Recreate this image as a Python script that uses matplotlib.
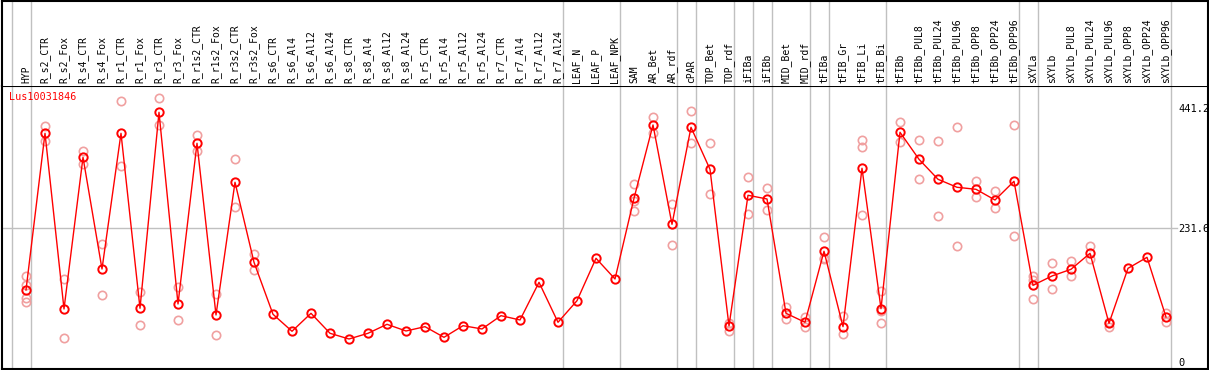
import matplotlib
matplotlib.use("Agg")
import matplotlib.pyplot as plt
import matplotlib.transforms as mtransforms

#---------------Data---------------

gene = "Lus10031846"

samples = ["HYP", "R_s2_CTR", "R_s2_Fox", "R_s4_CTR", "R_s4_Fox", "R_r1_CTR", "R_r1_Fox",
           "R_r3_CTR", "R_r3_Fox", "R_r1s2_CTR", "R_r1s2_Fox", "R_r3s2_CTR", "R_r3s2_Fox",
           "R_s6_CTR", "R_s6_Al4", "R_s6_Al12", "R_s6_Al24",
           "R_s8_CTR", "R_s8_Al4", "R_s8_Al12", "R_s8_Al24",
           "R_r5_CTR", "R_r5_Al4", "R_r5_Al12", "R_r5_Al24",
           "R_r7_CTR", "R_r7_Al4", "R_r7_Al12", "R_r7_Al24",
           "LEAF_N", "LEAF_P", "LEAF_NPK", "SAM", "AR_Bet", "AR_rdf", "cPAR",
           "TOP_Bet", "TOP_rdf", "iFIBa", "iFIBb", "MID_Bet", "MID_rdf",
           "tFIBa", "tFIB_Gr", "tFIB_Li", "tFIB_Bi", "tFIBb",
           "tFIBb_PUL8", "tFIBb_PUL24", "tFIBb_PUL96", "tFIBb_OPP8", "tFIBb_OPP24", "tFIBb_OPP96",
           "sXYLa", "sXYLb",
           "sXYLb_PUL8", "sXYLb_PUL24", "sXYLb_PUL96", "sXYLb_OPP8", "sXYLb_OPP24", "sXYLb_OPP96"]

means = [124.5, 396.5, 91.5, 354.8, 160.9, 396.5, 92.7, 433.0, 100.2, 379.2, 81.1, 311.5, 172.6,
         82.3, 52.8, 84.0, 49.3,
         39.4, 49.3, 64.9, 53.3,
         60.8, 42.3, 62.5, 56.8,
         79.9, 72.4, 137.8, 68.4,
         105.9, 179.5, 143.6, 283.7, 411.0, 238.5, 406.9,
         334.0, 62.0, 288.9, 282.5, 84.0, 68.4,
         191.7, 60.8, 335.8, 92.0, 398.3,
         351.4, 316.7, 302.8, 299.3, 280.7, 313.2,
         132.6, 148.8,
         160.4, 188.2, 66.6, 162.1, 181.2, 77.6]

replicates = [[148.8, 133.2, 111.3, 103.1], [409.2, 383.2], [143.6, 41.7], [366.3, 343.2],
              [204.3, 115.8], [452.0, 340.3], [121.0, 63.2], [457.8, 411.0], [129.2, 72.4],
              [393.0, 365.8], [117.5, 45.8], [351.4, 269.1], [187.0, 159.2],
              [], [], [], [],
              [], [], [], [],
              [], [], [], [],
              [], [], [], [],
              [], [], [], [308.0, 279.0, 262.2], [424.3, 396.5], [273.3, 202.1], [434.7, 379.2],
              [379.7, 290.6], [67.7, 53.8], [320.1, 255.9], [301.0, 262.8], [94.4, 74.7], [77.1, 59.7],
              [216.5, 180.0, 178.6], [79.3, 48.1], [384.9, 372.2, 254.7], [122.7, 88.5, 66.7],
              [416.1, 380.9],
              [384.4, 316.7], [383.2, 252.4], [407.5, 200.3], [313.2, 285.4], [295.8, 266.3],
              [410.4, 217.7],
              [148.8, 141.8, 108.3], [170.8, 125.7],
              [174.3, 148.8], [200.9, 177.8], [69.4, 60.8], [], [], [85.1, 68.4]]

# last sample index of each group (group separators)
group_ends = [-1, 0, 28, 31, 34, 35, 37, 38, 39, 41, 42, 45, 52, 53, 60]

yticks = [0, 231.6, 441.2]

#---------------Figure---------------

W, H = 1209, 370
fig = plt.figure(figsize=(W / 100, H / 100), dpi=100)

head_px = 85.5
x_left, x_right = 1.5, 1208.0
ax = fig.add_axes([x_left / W, 1 / H, (x_right - x_left) / W, (H - 1 - head_px) / H])
hax = fig.add_axes([x_left / W, (H - head_px) / H, (x_right - x_left) / W, (head_px - 0.5) / H],
                   sharex=ax)

step = 19.0
xmin = -(26 - x_left) / step
xmax = xmin + (x_right - x_left) / step
ax.set_xlim(xmin, xmax)
ax.set_ylim(-12.7, 479.5)

gray = "#c0c0c0"
mono = "DejaVu Sans Mono"
x = list(range(len(samples)))

for a in (ax, hax):
    for s in a.spines.values():
        s.set_color("black")
        s.set_linewidth(1.5)
    for g in group_ends:
        a.axvline(g + 0.25, color=gray, lw=1, zorder=1)

hax.set_ylim(0, 1)
hax.tick_params(left=False, bottom=False, labelleft=False, labelbottom=False)
hax.spines["bottom"].set_visible(False)
trans = mtransforms.blended_transform_factory(hax.transData, hax.transAxes)
for i, name in enumerate(samples):
    hax.text(i, 0.03, name, rotation=90, ha="center", va="bottom",
             fontsize=7, family=mono, transform=trans)

ax.axhline(yticks[1], xmax=(1177 - x_left) / (x_right - x_left), color=gray, lw=1, zorder=1)

for i, reps in enumerate(replicates):
    ax.plot([i] * len(reps), reps, ls="none", marker="o", ms=6, mfc="none",
            mec="#f0a0a0", mew=1.2, zorder=2)

ax.plot(x, means, color="red", lw=1, marker="o", ms=6, mfc="none",
        mec="red", mew=1.4, zorder=3)

ax.yaxis.tick_right()
ax.set_yticks(yticks)
ax.set_yticklabels(["0", "231.6", "441.2"])
ax.tick_params(axis="y", length=0, pad=-21.6, labelsize=7.5)
for lab in ax.get_yticklabels():
    lab.set_family(mono)
ax.tick_params(axis="x", bottom=False, labelbottom=False)

ax.text((9.5 - x_left) / (x_right - x_left), 0.9605, gene, color="red", fontsize=7.3,
        family=mono, ha="left", va="center", transform=ax.transAxes)

fig.savefig("out.png", dpi=100, facecolor="white")
